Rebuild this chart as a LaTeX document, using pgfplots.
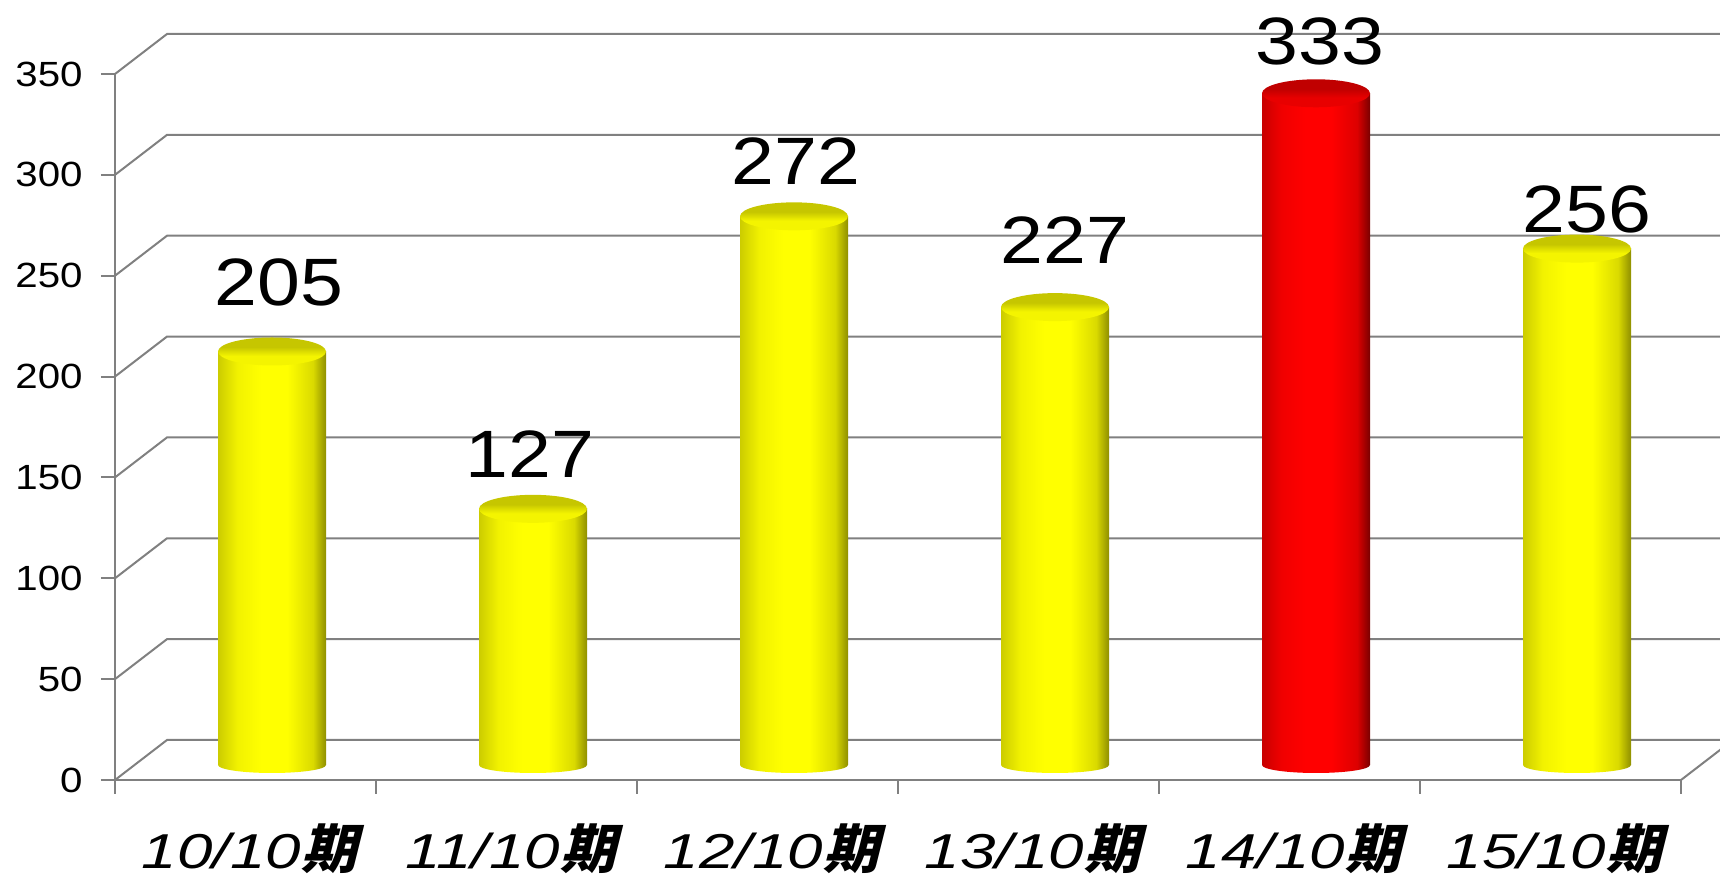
\documentclass[border=0pt]{standalone}
\usepackage{pgfplots}
\pgfplotsset{compat=1.18}
\usepackage{pgfplotstable}
\usepackage{fontspec}
\setmainfont{Liberation Sans}
\newfontfamily\numfont{Liberation Sans}[FakeStretch=1.15]
\newfontfamily\catfont{Liberation Sans}[FakeStretch=1.3]
\newfontfamily\cjkfont{Noto Sans CJK JP}[FakeSlant=0.25,FakeStretch=1.05]

\definecolor{axgray}{HTML}{808080}
\definecolor{yE0}{HTML}{CCCC00}
\definecolor{yE1}{HTML}{F2F200}
\definecolor{yM}{HTML}{FFFF00}
\definecolor{yE2}{HTML}{DADA00}
\definecolor{yE3}{HTML}{8F8F00}
\definecolor{rE0}{HTML}{C80000}
\definecolor{rE1}{HTML}{F00000}
\definecolor{rM}{HTML}{FF0000}
\definecolor{rE2}{HTML}{DD0000}
\definecolor{rE3}{HTML}{7A0000}
\definecolor{cY1}{HTML}{F4F400}
\definecolor{cY2}{HTML}{C6C600}
\definecolor{cR1}{HTML}{E80000}
\definecolor{cR2}{HTML}{C00000}

\pgfdeclarehorizontalshading{cylY}{100bp}{color(0bp)=(yE0); color(25bp)=(yE0); color(34bp)=(yE1); color(45bp)=(yM); color(57bp)=(yM); color(69bp)=(yE2); color(75bp)=(yE3); color(100bp)=(yE3)}
\pgfdeclarehorizontalshading{cylR}{100bp}{color(0bp)=(rE0); color(25bp)=(rE0); color(34bp)=(rE1); color(45bp)=(rM); color(57bp)=(rM); color(69bp)=(rE2); color(75bp)=(rE3); color(100bp)=(rE3)}
\pgfdeclareverticalshading{capYsh}{100bp}{color(0bp)=(cY1); color(25bp)=(cY1); color(42bp)=(cY1); color(58bp)=(cY2); color(75bp)=(cY2); color(100bp)=(cY2)}
\pgfdeclareverticalshading{capRsh}{100bp}{color(0bp)=(cR1); color(25bp)=(cR1); color(42bp)=(cR1); color(58bp)=(cR2); color(75bp)=(cR2); color(100bp)=(cR2)}

\pgfdeclareplotmark{capY}{\pgfpathellipse{\pgfpointorigin}{\pgfqpoint{27pt}{0pt}}{\pgfqpoint{0pt}{7pt}}\pgfshadepath{capYsh}{0}\pgfusepath{discard}}
\pgfdeclareplotmark{capR}{\pgfpathellipse{\pgfpointorigin}{\pgfqpoint{27pt}{0pt}}{\pgfqpoint{0pt}{7pt}}\pgfshadepath{capRsh}{0}\pgfusepath{discard}}
\pgfdeclareplotmark{botY}{\pgfpathellipse{\pgfpointorigin}{\pgfqpoint{27pt}{0pt}}{\pgfqpoint{0pt}{4pt}}\pgfshadepath{cylY}{0}\pgfusepath{discard}}
\pgfdeclareplotmark{botR}{\pgfpathellipse{\pgfpointorigin}{\pgfqpoint{27pt}{0pt}}{\pgfqpoint{0pt}{4pt}}\pgfshadepath{cylR}{0}\pgfusepath{discard}}

\newcommand\cat[1]{{\catfont\itshape\fontsize{24.5}{26}\selectfont #1}{\cjkfont\bfseries\fontsize{26.5}{26}\selectfont 期}}

\pgfplotstableread{
x v
0 205
1 127
2 272
3 227
5 256
}\dataY
\pgfplotstableread{
x v
4 333
}\dataR
\pgfplotstableread{
x y lab
0.128 235.0 205
1.090 150.2 127
2.109 295.0 272
3.140 256.3 227
4.117 354.5 333
5.140 271.2 256
}\dataLab

\pgfplotsset{cylbarY/.style={ybar, bar width=54pt, bar shift=0pt, draw=none, fill=none, shade, shading=cylY}}

\begin{document}
\begin{tikzpicture}
\path[use as bounding box] (0,0) rectangle (860pt,441.5pt);
\clip (0,0) rectangle (860pt,441.5pt);
% front plane axis
\begin{axis}[
  at={(57.5pt,51.5pt)}, anchor=south west,
  scale only axis, width=783pt, height=353pt,
  xmin=-0.5, xmax=5.5, ymin=0, ymax=350,
  clip=false,
  axis x line*=bottom, axis y line*=left,
  axis line style={axgray, line width=1pt, -},
  ytick={0,50,...,350},
  xtick={-0.5,0.5,...,5.5},
  x tick label as interval,
  xticklabels={\cat{10/10},\cat{11/10},\cat{12/10},\cat{13/10},\cat{14/10},\cat{15/10}},
  tick align=outside,
  major tick length=7pt,
  tick style={axgray, line width=1pt},
  /pgf/number format/assume math mode=true,
  yticklabel style={font=\numfont\fontsize{17.5}{18}\selectfont, anchor=east, inner sep=0pt, xshift=-9pt},
  xticklabel style={anchor=base, inner sep=0pt, xshift=2pt, yshift=-37.5pt},
]
\pgfplotsinvokeforeach{0,50,100,150,200,250,300,350}{
  \draw[axgray, line width=1pt] (axis cs:-0.5,#1) -- ++(26pt,20pt) -- ++(900pt,0pt);
}
\draw[axgray, line width=1pt] (axis cs:5.5,0) -- ++(26pt,20pt);
\addplot[draw=none, mark=none, nodes near coords, point meta=explicit symbolic,
  every node near coord/.append style={anchor=base, inner sep=0pt, font=\numfont\fontsize{33.5}{34}\selectfont}]
  table[x=x, y=y, meta=lab] {\dataLab};
\end{axis}
% cylinders at mid depth
\begin{axis}[
  at={(70.75pt,59pt)}, anchor=south west,
  scale only axis, width=783pt, height=353pt,
  xmin=-0.5, xmax=5.5, ymin=0, ymax=350,
  hide axis, clip=false,
]
\addplot[only marks, mark=botY] table[x=x, y expr=0] {\dataY};
\addplot[only marks, mark=botR] table[x=x, y expr=0] {\dataR};
\addplot[cylbarY, restrict x to domain=-0.2:0.2] table[x=x, y=v] {\dataY};
\addplot[cylbarY, restrict x to domain=0.8:1.2] table[x=x, y=v] {\dataY};
\addplot[cylbarY, restrict x to domain=1.8:2.2] table[x=x, y=v] {\dataY};
\addplot[cylbarY, restrict x to domain=2.8:3.2] table[x=x, y=v] {\dataY};
\addplot[cylbarY, restrict x to domain=4.8:5.2] table[x=x, y=v] {\dataY};
\addplot[ybar, bar width=54pt, bar shift=0pt, draw=none, fill=none, shade, shading=cylR] table[x=x, y=v] {\dataR};
\addplot[only marks, mark=capY] table[x=x, y=v] {\dataY};
\addplot[only marks, mark=capR] table[x=x, y=v] {\dataR};
\end{axis}
\end{tikzpicture}
\end{document}
